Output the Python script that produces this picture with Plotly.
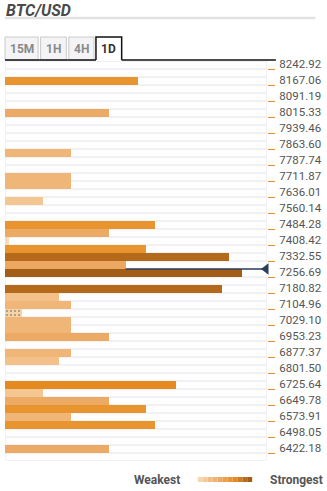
import plotly.graph_objects as go

# ---------------- data ----------------
tick_labels = ["8242.92", "8167.06", "8091.19", "8015.33", "7939.46", "7863.60",
               "7787.74", "7711.87", "7636.01", "7560.14", "7484.28", "7408.42",
               "7332.55", "7256.69", "7180.82", "7104.96", "7029.10", "6953.23",
               "6877.37", "6801.50", "6725.64", "6649.78", "6573.91", "6498.05",
               "6422.18"]
level_prices = [8186.03, 8034.30, 7844.65, 7730.87, 7692.94, 7617.08, 7503.29,
                7465.36, 7427.43, 7389.50, 7351.57, 7313.64, 7275.71, 7199.85,
                7161.92, 7123.99, 7086.06, 7048.13, 7010.20, 6972.26, 6896.40,
                6858.47, 6744.68, 6706.75, 6668.82, 6630.89, 6592.96, 6555.03,
                6441.24]
strengths = [135, 105, 67, 67, 67, 38, 152, 105, 4, 143, 227, 122, 240, 219,
             55, 67, 17, 67, 67, 105, 67, 55, 173, 38, 105, 143, 67, 152, 105]
current_price = 7294.67
timeframes = ["15M", "1H", "4H", "1D"]
active_tf = "1D"
pair = "BTC/USD"

# ---------------- geometry ----------------
W, H = 327, 491
L, R, T, B = 5, 57, 61, 30
PW, PH = W - L - R, H - T - B
XMAX = 265
step = 37.93
top_price = float(tick_labels[0])
n_rows = 50
y_lo = top_price - 49 * step
y_hi = top_price + step


def px(x):
    return (x - L) / PW


def py(y):
    return (H - B - y) / PH


def bar_color(s):
    if s <= 10:
        return "#f7dbb6"
    if s <= 20:
        return "#f5d4aa"
    if s <= 45:
        return "#f3c692"
    if s <= 60:
        return "#f2c088"
    if s <= 80:
        return "#efb677"
    if s <= 112:
        return "#edaa64"
    if s <= 128:
        return "#eca760"
    if s <= 160:
        return "#e8952f"
    if s <= 190:
        return "#e58a1e"
    if s <= 230:
        return "#b4691b"
    return "#a25e16"


legend_colors = ["#f6d6ac", "#f3ca98", "#f0be84", "#eeb373", "#eca962", "#ea9e4e",
                 "#e8943a", "#e48a25", "#cf7c1d", "#b86b1a", "#a05e16"]

fig = go.Figure()

# row background bands
row_centers = [top_price - step * (i - 0.5) for i in range(n_rows)]
fig.add_trace(go.Bar(
    x=[XMAX - 1.4] * n_rows, y=row_centers, base=0.7, orientation="h",
    width=step * 0.76, marker=dict(color="#ffffff", line=dict(width=0)),
    hoverinfo="skip", showlegend=False))

# strength bars
patterns = ["." if 10 < s <= 20 else "" for s in strengths]
fig.add_trace(go.Bar(
    x=strengths, y=level_prices, base=0, orientation="h", width=step,
    marker=dict(color=[bar_color(s) for s in strengths], line=dict(width=0),
                pattern=dict(shape=patterns, fillmode="overlay",
                             fgcolor="#efc28e", size=4, solidity=0.2)),
    showlegend=False))

# current price line + marker
above = [(p, s) for p, s in zip(level_prices, strengths) if p > current_price]
x_start = min(above, key=lambda t: t[0])[1]
fig.add_trace(go.Scatter(
    x=[x_start, XMAX], y=[current_price, current_price], mode="lines",
    line=dict(color="#2c3e5a", width=1.5), hoverinfo="skip", showlegend=False,
    cliponaxis=False))
fig.add_trace(go.Scatter(
    x=[XMAX - 1], y=[current_price], mode="markers",
    marker=dict(symbol="triangle-left", size=10, color="#2c3e5a"),
    hoverinfo="skip", showlegend=False, cliponaxis=False))

shapes = []
annotations = []

# header
annotations.append(dict(xref="paper", yref="paper", x=px(4), y=py(10),
                        xanchor="left", yanchor="middle", showarrow=False,
                        text="<b><i>%s</i></b>" % pair,
                        font=dict(family="Roboto", size=16, color="#4a4a4a")))
shapes.append(dict(type="line", xref="paper", yref="paper", x0=px(5), x1=px(319),
                   y0=py(18), y1=py(18), line=dict(color="#e2e2e2", width=2.5)))

# tabs
tab_x = [(5, 38.5), (41, 67), (69.5, 95), (97, 123)]
tab_top, tab_bot = 37, 60
for (x0, x1), tf in zip(tab_x, timeframes):
    act = tf == active_tf
    if act:
        shapes.append(dict(type="rect", xref="paper", yref="paper",
                           x0=px(x0), x1=px(x1), y0=py(tab_bot), y1=py(tab_top),
                           fillcolor="#ffffff", line=dict(width=0)))
        shapes.append(dict(type="path", xref="paper", yref="paper",
                           path="M %f,%f L %f,%f L %f,%f L %f,%f" % (
                               px(x0), py(tab_bot), px(x0), py(tab_top),
                               px(x1), py(tab_top), px(x1), py(tab_bot)),
                           line=dict(color="#111111", width=1.5)))
    else:
        shapes.append(dict(type="rect", xref="paper", yref="paper",
                           x0=px(x0), x1=px(x1), y0=py(tab_bot), y1=py(tab_top),
                           fillcolor="#f4f4f7", line=dict(color="#c9c9c9", width=1)))
    annotations.append(dict(xref="paper", yref="paper", x=px((x0 + x1) / 2),
                            y=py(48.5), xanchor="center", yanchor="middle",
                            showarrow=False, text="<b>%s</b>" % tf,
                            font=dict(family="Roboto", size=12,
                                      color="#333333" if act else "#8a8a8a")))
shapes.append(dict(type="line", xref="paper", yref="paper", x0=px(5), x1=px(97),
                   y0=py(tab_bot), y1=py(tab_bot), line=dict(color="#111111", width=1.5)))
shapes.append(dict(type="line", xref="paper", yref="paper", x0=px(123), x1=px(279),
                   y0=py(tab_bot), y1=py(tab_bot), line=dict(color="#111111", width=1.5)))

# legend
annotations.append(dict(xref="paper", yref="paper", x=px(184), y=py(480),
                        xanchor="right", yanchor="middle", showarrow=False,
                        text="<b>Weakest</b>",
                        font=dict(family="Roboto", size=12, color="#555555")))
annotations.append(dict(xref="paper", yref="paper", x=px(271), y=py(480),
                        xanchor="left", yanchor="middle", showarrow=False,
                        text="<b>Strongest</b>",
                        font=dict(family="Roboto", size=12, color="#555555")))
sw = (255 - 200) / len(legend_colors)
for k, c in enumerate(legend_colors):
    shapes.append(dict(type="rect", xref="paper", yref="paper",
                       x0=px(200 + k * sw), x1=px(200 + (k + 1) * sw),
                       y0=py(482), y1=py(477), fillcolor=c, line=dict(width=0)))

fig.update_layout(
    width=W, height=H, margin=dict(l=L, r=R, t=T, b=B),
    paper_bgcolor="#ffffff", plot_bgcolor="#f1f1f6",
    barmode="overlay", bargap=0, showlegend=False,
    shapes=shapes, annotations=annotations,
    font=dict(family="Roboto"),
    xaxis=dict(range=[0, XMAX], showgrid=False, zeroline=False,
               showticklabels=False, ticks="", fixedrange=True),
    yaxis=dict(range=[y_lo, y_hi], side="right", showgrid=False, zeroline=False,
               tickvals=[float(t) for t in tick_labels], ticktext=tick_labels,
               ticks="outside", ticklen=7, tickwidth=1.2, tickcolor="#e8892a",
               ticklabelshift=-5, ticklabelstandoff=2,
               tickfont=dict(family="Roboto", size=11.5, color="#555555"),
               fixedrange=True),
)

fig.write_html("out.html")
